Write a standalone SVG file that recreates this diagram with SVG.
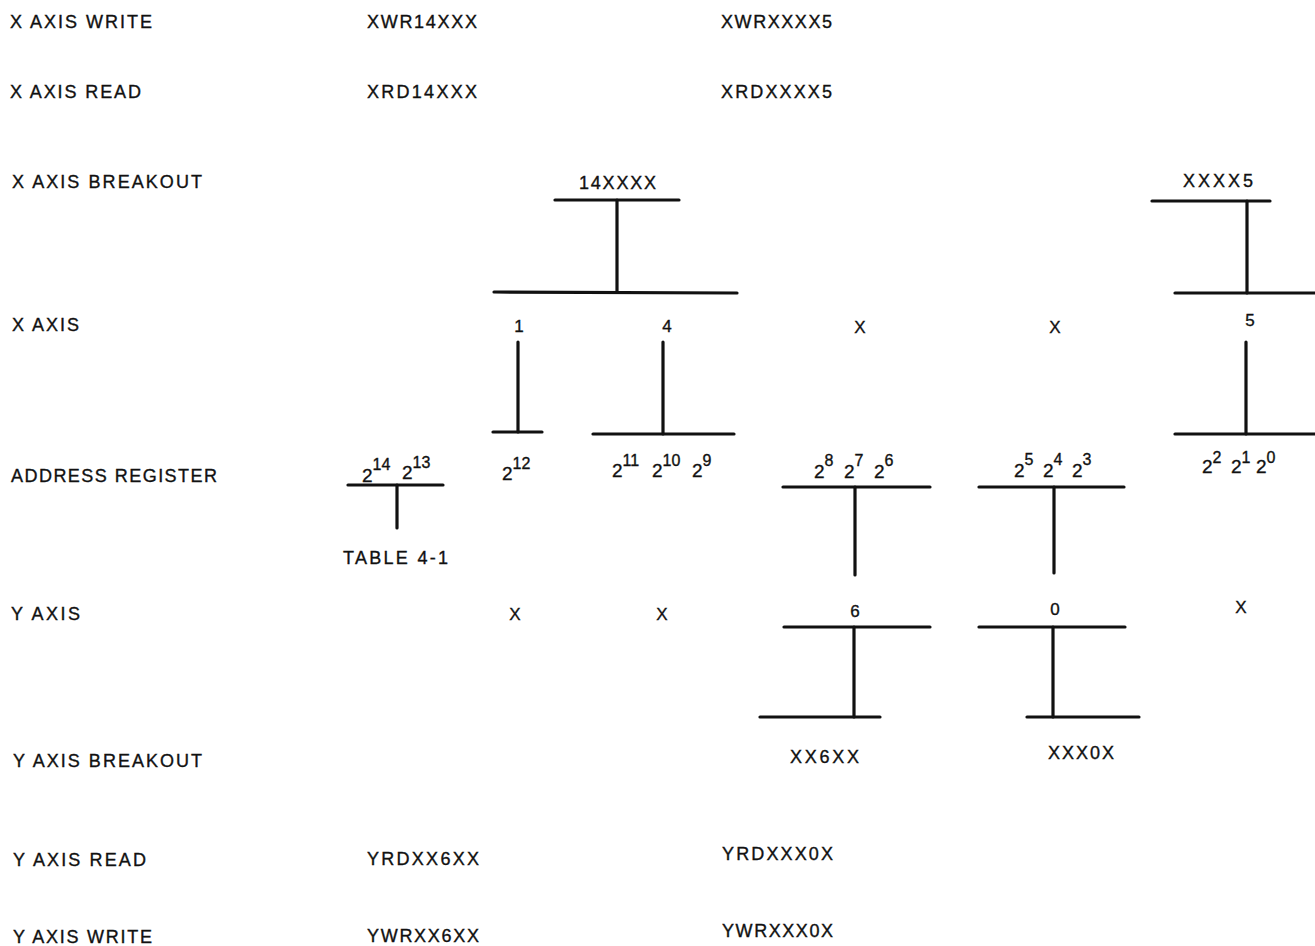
<svg xmlns="http://www.w3.org/2000/svg" width="1315" height="946" viewBox="0 0 1315 946">
<style>
text{font-family:"Liberation Sans",Arial,sans-serif;fill:#111;stroke:#111;stroke-width:0.35}
.l{font-size:18px}
.d{font-size:17px}
.b{font-size:19px}
.s{font-size:16px}
.ln{stroke:#111;stroke-width:3.2;stroke-linecap:round;fill:none}
</style>
<rect width="1315" height="946" fill="#fff"/>
<g id="rowlabels">
<g id="lbl-xwrite"><text class="l" x="10" y="28" textLength="142" lengthAdjust="spacing">X AXIS WRITE</text></g>
<g id="lbl-xread"><text class="l" x="10" y="98" textLength="131" lengthAdjust="spacing">X AXIS READ</text></g>
<g id="lbl-xbreak"><text class="l" x="12" y="188" textLength="190" lengthAdjust="spacing">X AXIS BREAKOUT</text></g>
<g id="lbl-xaxis"><text class="l" x="12" y="331" textLength="67" lengthAdjust="spacing">X AXIS</text></g>
<g id="lbl-addr"><text class="l" x="11" y="482" textLength="206" lengthAdjust="spacing">ADDRESS REGISTER</text></g>
<g id="lbl-yaxis"><text class="l" x="11" y="620" textLength="69" lengthAdjust="spacing">Y AXIS</text></g>
<g id="lbl-ybreak"><text class="l" x="13" y="767" textLength="189" lengthAdjust="spacing">Y AXIS BREAKOUT</text></g>
<g id="lbl-yread"><text class="l" x="13" y="866" textLength="133" lengthAdjust="spacing">Y AXIS READ</text></g>
<g id="lbl-ywrite"><text class="l" x="13" y="943" textLength="139" lengthAdjust="spacing">Y AXIS WRITE</text></g>
</g>
<g id="xwrite">
<g id="xwr14"><text class="l" x="367" y="28" textLength="110" lengthAdjust="spacing">XWR14XXX</text></g>
<g id="xwr5"><text class="l" x="721" y="28" textLength="111" lengthAdjust="spacing">XWRXXXX5</text></g>
</g>
<g id="xread">
<g id="xrd14"><text class="l" x="367" y="98" textLength="110" lengthAdjust="spacing">XRD14XXX</text></g>
<g id="xrd5"><text class="l" x="721" y="98" textLength="111" lengthAdjust="spacing">XRDXXXX5</text></g>
</g>
<g id="xbreak">
<g id="b14xxxx"><text class="l" x="579" y="189" textLength="77" lengthAdjust="spacing">14XXXX</text></g>
<g id="bxxxx5"><text class="l" x="1183" y="187" textLength="70" lengthAdjust="spacing">XXXX5</text></g>
</g>
<g id="xaxis">
<g id="xa1"><text class="d" x="519" y="332" text-anchor="middle">1</text></g>
<g id="xa4"><text class="d" x="667" y="332" text-anchor="middle">4</text></g>
<g id="xax1"><text class="d" x="860" y="333" text-anchor="middle">X</text></g>
<g id="xax2"><text class="d" x="1055" y="333" text-anchor="middle">X</text></g>
<g id="xa5"><text class="d" x="1250" y="326" text-anchor="middle">5</text></g>
</g>
<g id="addr">
<g id="a1413"><text class="b" x="362" y="482">2<tspan class="s" y="470">14</tspan><tspan x="402" y="479">2</tspan><tspan class="s" y="468">13</tspan></text></g>
<g id="a12"><text class="b" x="502" y="480">2<tspan class="s" y="469">12</tspan></text></g>
<g id="a11109"><text class="b" x="612" y="477">2<tspan class="s" y="466">11</tspan><tspan x="652" y="477">2</tspan><tspan class="s" y="466">10</tspan><tspan x="692" y="477">2</tspan><tspan class="s" y="466">9</tspan></text></g>
<g id="a876"><text class="b" x="814" y="478">2<tspan class="s" y="466">8</tspan><tspan x="844" y="478">2</tspan><tspan class="s" y="466">7</tspan><tspan x="874" y="478">2</tspan><tspan class="s" y="466">6</tspan></text></g>
<g id="a543"><text class="b" x="1014" y="477">2<tspan class="s" y="465">5</tspan><tspan x="1043" y="477">2</tspan><tspan class="s" y="465">4</tspan><tspan x="1072" y="477">2</tspan><tspan class="s" y="465">3</tspan></text></g>
<g id="a210"><text class="b" x="1202" y="473">2<tspan class="s" y="463">2</tspan><tspan x="1231" y="473">2</tspan><tspan class="s" y="463">1</tspan><tspan x="1256" y="473">2</tspan><tspan class="s" y="463">0</tspan></text></g>
<g id="table41"><text class="l" x="343" y="564" textLength="105" lengthAdjust="spacing">TABLE 4-1</text></g>
</g>
<g id="yaxis">
<g id="yax1"><text class="d" x="515" y="620" text-anchor="middle">X</text></g>
<g id="yax2"><text class="d" x="662" y="620" text-anchor="middle">X</text></g>
<g id="ya6"><text class="d" x="855" y="617" text-anchor="middle">6</text></g>
<g id="ya0"><text class="d" x="1055" y="615" text-anchor="middle">0</text></g>
<g id="yax3"><text class="d" x="1241" y="613" text-anchor="middle">X</text></g>
</g>
<g id="ybreak">
<g id="bxx6xx"><text class="l" x="790" y="763" textLength="69" lengthAdjust="spacing">XX6XX</text></g>
<g id="bxxx0x"><text class="l" x="1048" y="759" textLength="66" lengthAdjust="spacing">XXX0X</text></g>
</g>
<g id="yread">
<g id="yrd6"><text class="l" x="367" y="865" textLength="112" lengthAdjust="spacing">YRDXX6XX</text></g>
<g id="yrd0"><text class="l" x="722" y="860" textLength="111" lengthAdjust="spacing">YRDXXX0X</text></g>
</g>
<g id="ywrite">
<g id="ywr6"><text class="l" x="367" y="942" textLength="112" lengthAdjust="spacing">YWRXX6XX</text></g>
<g id="ywr0"><text class="l" x="722" y="937" textLength="111" lengthAdjust="spacing">YWRXXX0X</text></g>
</g>
<g id="connectors">
<line class="ln" x1="555" y1="200" x2="679" y2="200"/>
<line class="ln" x1="617" y1="200" x2="617" y2="292"/>
<line class="ln" x1="494" y1="292" x2="737" y2="293"/>
<line class="ln" x1="1152" y1="201" x2="1270" y2="201"/>
<line class="ln" x1="1247" y1="201" x2="1247" y2="293"/>
<line class="ln" x1="1175" y1="293" x2="1315" y2="293"/>
<line class="ln" x1="518" y1="342" x2="518" y2="432"/>
<line class="ln" x1="493" y1="432" x2="542" y2="432"/>
<line class="ln" x1="663" y1="342" x2="663" y2="434"/>
<line class="ln" x1="593" y1="434" x2="734" y2="434"/>
<line class="ln" x1="1246" y1="342" x2="1246" y2="434"/>
<line class="ln" x1="1175" y1="434" x2="1315" y2="434"/>
<line class="ln" x1="348" y1="485" x2="443" y2="485"/>
<line class="ln" x1="397" y1="485" x2="397" y2="528"/>
<line class="ln" x1="783" y1="487" x2="930" y2="487"/>
<line class="ln" x1="855" y1="487" x2="855" y2="575"/>
<line class="ln" x1="979" y1="487" x2="1124" y2="487"/>
<line class="ln" x1="1054" y1="487" x2="1054" y2="573"/>
<line class="ln" x1="784" y1="627" x2="930" y2="627"/>
<line class="ln" x1="854" y1="627" x2="854" y2="717"/>
<line class="ln" x1="760" y1="717" x2="880" y2="717"/>
<line class="ln" x1="979" y1="627" x2="1125" y2="627"/>
<line class="ln" x1="1053" y1="627" x2="1053" y2="717"/>
<line class="ln" x1="1027" y1="717" x2="1139" y2="717"/>
</g>
</svg>
